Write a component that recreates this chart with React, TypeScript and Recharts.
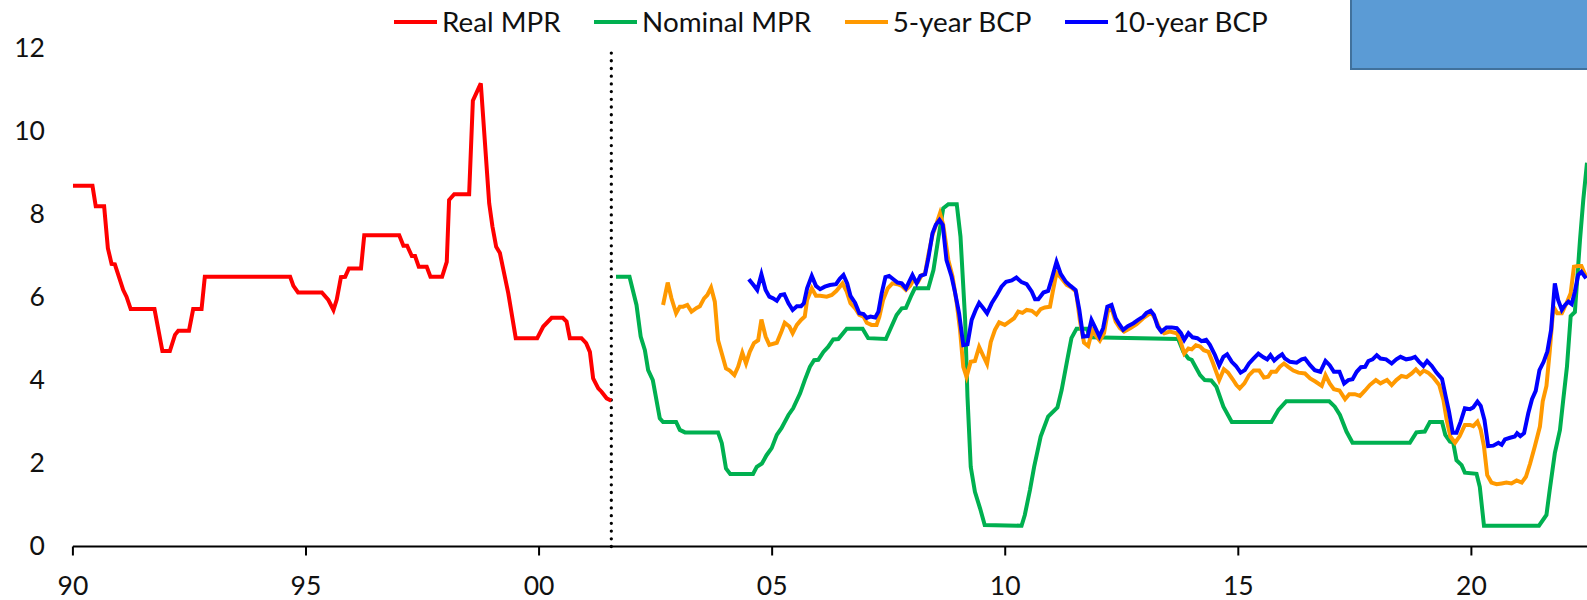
import React from 'react';
import { LineChart, Line, XAxis, YAxis, ReferenceLine } from 'recharts';

// ---------- data ([year, value]) ----------
const realMpr: [number, number][] = [
  [1990.0, 8.69], [1990.42, 8.69], [1990.49, 8.2], [1990.67, 8.2], [1990.75, 7.19], [1990.83, 6.81], [1990.9, 6.8],
  [1991.08, 6.18], [1991.15, 6.02], [1991.24, 5.72], [1991.75, 5.72], [1991.92, 4.71], [1992.08, 4.71], [1992.19, 5.1],
  [1992.26, 5.2], [1992.49, 5.2], [1992.58, 5.72], [1992.76, 5.72], [1992.83, 6.5], [1994.66, 6.5], [1994.73, 6.28],
  [1994.83, 6.12], [1995.34, 6.12], [1995.48, 5.94], [1995.59, 5.7], [1995.66, 5.95], [1995.75, 6.49], [1995.84, 6.5],
  [1995.92, 6.7], [1996.18, 6.7], [1996.25, 7.5], [1997.0, 7.5], [1997.09, 7.25], [1997.17, 7.25], [1997.27, 7.0],
  [1997.34, 7.0], [1997.42, 6.74], [1997.59, 6.74], [1997.67, 6.5], [1997.92, 6.5], [1998.02, 6.86], [1998.07, 8.35],
  [1998.18, 8.49], [1998.5, 8.49], [1998.58, 10.74], [1998.75, 11.16], [1998.93, 8.27], [1999.0, 7.71], [1999.08, 7.22],
  [1999.16, 7.07], [1999.34, 6.1], [1999.5, 5.02], [1999.96, 5.02], [2000.09, 5.3], [2000.27, 5.51], [2000.51, 5.51],
  [2000.59, 5.42], [2000.66, 5.02], [2000.91, 5.02], [2001.01, 4.9], [2001.09, 4.69], [2001.16, 4.05], [2001.27, 3.81],
  [2001.34, 3.73], [2001.45, 3.57], [2001.55, 3.51],
];

const nominalMpr: [number, number][] = [
  [2001.65, 6.5], [2001.94, 6.5], [2002.09, 5.82], [2002.18, 5.06], [2002.27, 4.73], [2002.34, 4.25], [2002.44, 4.01],
  [2002.59, 3.09], [2002.66, 3.0], [2002.94, 3.0], [2003.02, 2.81], [2003.13, 2.75], [2003.84, 2.75], [2003.92, 2.49],
  [2004.01, 1.88], [2004.1, 1.75], [2004.59, 1.75], [2004.67, 1.92], [2004.78, 2.0], [2004.88, 2.2], [2004.99, 2.37],
  [2005.1, 2.69], [2005.2, 2.85], [2005.35, 3.17], [2005.45, 3.33], [2005.6, 3.69], [2005.7, 4.01], [2005.81, 4.33],
  [2005.9, 4.49], [2005.99, 4.5], [2006.1, 4.69], [2006.2, 4.81], [2006.31, 4.99], [2006.42, 5.0], [2006.6, 5.25],
  [2006.94, 5.25], [2007.06, 5.02], [2007.44, 5.0], [2007.56, 5.3], [2007.67, 5.58], [2007.78, 5.74], [2007.87, 5.75],
  [2007.99, 6.06], [2008.06, 6.22], [2008.35, 6.22], [2008.46, 6.66], [2008.56, 7.39], [2008.67, 8.15], [2008.78, 8.25],
  [2008.96, 8.25], [2009.04, 7.47], [2009.14, 5.46], [2009.19, 3.61], [2009.26, 1.92], [2009.35, 1.32], [2009.46, 0.92],
  [2009.56, 0.52], [2010.35, 0.5], [2010.42, 0.76], [2010.53, 1.36], [2010.62, 1.92], [2010.76, 2.65], [2010.92, 3.13],
  [2011.12, 3.35], [2011.21, 3.77], [2011.33, 4.49], [2011.42, 5.02], [2011.53, 5.25], [2011.75, 5.25], [2011.82, 5.04],
  [2013.71, 5.0], [2013.82, 4.69], [2013.93, 4.53], [2014.0, 4.5], [2014.18, 4.13], [2014.28, 4.01], [2014.42, 4.0],
  [2014.53, 3.85], [2014.68, 3.37], [2014.86, 3.0], [2015.71, 3.0], [2015.86, 3.29], [2016.03, 3.5], [2016.95, 3.5],
  [2017.07, 3.37], [2017.18, 3.17], [2017.32, 2.77], [2017.45, 2.5], [2018.68, 2.5], [2018.82, 2.75], [2019.0, 2.77],
  [2019.11, 3.0], [2019.37, 3.0], [2019.44, 2.69], [2019.54, 2.53], [2019.61, 2.5], [2019.68, 2.08], [2019.79, 1.96],
  [2019.86, 1.78], [2020.11, 1.75], [2020.18, 1.44], [2020.27, 0.5], [2021.45, 0.5], [2021.61, 0.76], [2021.68, 1.36],
  [2021.79, 2.25], [2021.9, 2.81], [2021.97, 3.53], [2022.05, 4.33], [2022.13, 5.55], [2022.22, 5.65], [2022.33, 7.39],
  [2022.4, 8.35], [2022.48, 9.25],
];

const bcp5: [number, number][] = [
  [2002.66, 5.82], [2002.76, 6.36], [2002.84, 5.98], [2002.94, 5.62], [2003.02, 5.78], [2003.09, 5.78], [2003.18, 5.82],
  [2003.27, 5.66], [2003.38, 5.75], [2003.45, 5.79], [2003.54, 5.98], [2003.61, 6.06], [2003.69, 6.24], [2003.77, 5.9],
  [2003.84, 4.97], [2003.92, 4.65], [2004.01, 4.29], [2004.09, 4.24], [2004.19, 4.13], [2004.27, 4.33], [2004.36, 4.67],
  [2004.44, 4.41], [2004.52, 4.69], [2004.61, 4.9], [2004.7, 4.97], [2004.77, 5.47], [2004.86, 5.06], [2004.94, 4.86],
  [2005.1, 4.91], [2005.2, 5.18], [2005.27, 5.39], [2005.37, 5.3], [2005.44, 5.14], [2005.53, 5.34], [2005.62, 5.46],
  [2005.7, 5.54], [2005.75, 5.94], [2005.85, 6.22], [2005.94, 6.04], [2006.03, 6.04], [2006.17, 6.02], [2006.28, 6.06],
  [2006.38, 6.16], [2006.51, 6.34], [2006.6, 6.14], [2006.68, 5.86], [2006.78, 5.74], [2006.87, 5.58], [2006.96, 5.54],
  [2007.03, 5.39], [2007.13, 5.34], [2007.24, 5.34], [2007.3, 5.54], [2007.38, 5.94], [2007.48, 6.22], [2007.58, 6.34],
  [2007.69, 6.32], [2007.78, 6.28], [2007.87, 6.18], [2007.96, 6.28], [2008.03, 6.42], [2008.13, 6.38], [2008.21, 6.54],
  [2008.28, 6.57], [2008.35, 7.02], [2008.44, 7.51], [2008.53, 7.79], [2008.6, 8.03], [2008.67, 7.75], [2008.78, 6.9],
  [2008.87, 6.5], [2008.96, 5.86], [2009.03, 5.22], [2009.1, 4.33], [2009.17, 4.09], [2009.26, 4.45], [2009.35, 4.47],
  [2009.44, 4.81], [2009.53, 4.59], [2009.61, 4.4], [2009.69, 4.93], [2009.78, 5.22], [2009.87, 5.4], [2009.99, 5.34],
  [2010.09, 5.42], [2010.19, 5.5], [2010.28, 5.66], [2010.37, 5.63], [2010.46, 5.7], [2010.57, 5.68], [2010.67, 5.59],
  [2010.76, 5.72], [2010.85, 5.76], [2010.96, 5.78], [2011.02, 6.14], [2011.1, 6.6], [2011.21, 6.46], [2011.32, 6.3],
  [2011.42, 6.24], [2011.52, 6.14], [2011.6, 5.46], [2011.69, 4.91], [2011.78, 4.83], [2011.87, 5.22], [2011.96, 5.06],
  [2012.03, 4.96], [2012.12, 5.14], [2012.2, 5.66], [2012.28, 5.74], [2012.37, 5.42], [2012.46, 5.26], [2012.55, 5.18],
  [2012.68, 5.26], [2012.82, 5.36], [2012.96, 5.5], [2013.07, 5.59], [2013.14, 5.63], [2013.23, 5.46], [2013.32, 5.22],
  [2013.41, 5.14], [2013.53, 5.18], [2013.68, 5.14], [2013.75, 4.98], [2013.84, 4.65], [2013.93, 4.77], [2014.0, 4.75],
  [2014.09, 4.85], [2014.18, 4.82], [2014.26, 4.73], [2014.36, 4.69], [2014.46, 4.41], [2014.59, 4.01], [2014.69, 4.27],
  [2014.78, 4.19], [2014.88, 4.03], [2014.96, 3.89], [2015.03, 3.81], [2015.13, 3.93], [2015.23, 4.13], [2015.33, 4.24],
  [2015.45, 4.24], [2015.55, 4.07], [2015.64, 4.09], [2015.71, 4.21], [2015.81, 4.21], [2015.89, 4.33], [2015.98, 4.41],
  [2016.07, 4.33], [2016.18, 4.24], [2016.29, 4.19], [2016.43, 4.17], [2016.54, 4.05], [2016.66, 3.97], [2016.79, 3.87],
  [2016.87, 4.13], [2016.96, 3.93], [2017.05, 3.79], [2017.17, 3.76], [2017.29, 3.55], [2017.38, 3.67], [2017.5, 3.67],
  [2017.61, 3.63], [2017.72, 3.76], [2017.82, 3.89], [2017.95, 4.01], [2018.05, 3.93], [2018.19, 4.01], [2018.29, 3.89],
  [2018.39, 4.01], [2018.5, 4.11], [2018.61, 4.08], [2018.72, 4.17], [2018.81, 4.27], [2018.9, 4.16], [2018.98, 4.24],
  [2019.07, 4.19], [2019.18, 4.08], [2019.31, 3.89], [2019.4, 3.53], [2019.47, 3.05], [2019.55, 2.65], [2019.65, 2.5],
  [2019.75, 2.66], [2019.86, 2.93], [2019.97, 2.93], [2020.04, 2.9], [2020.13, 3.01], [2020.2, 2.81], [2020.27, 2.41],
  [2020.34, 1.72], [2020.43, 1.54], [2020.54, 1.5], [2020.65, 1.52], [2020.75, 1.54], [2020.86, 1.52], [2020.97, 1.59],
  [2021.08, 1.54], [2021.17, 1.68], [2021.26, 2.0], [2021.36, 2.41], [2021.47, 2.89], [2021.53, 3.5], [2021.61, 3.87],
  [2021.68, 4.7], [2021.76, 5.78], [2021.84, 5.62], [2021.94, 5.62], [2022.04, 5.86], [2022.13, 6.1], [2022.2, 6.74],
  [2022.29, 6.76], [2022.36, 6.76], [2022.46, 6.5],
];

const bcp10: [number, number][] = [
  [2004.5, 6.44], [2004.6, 6.3], [2004.68, 6.18], [2004.77, 6.56], [2004.86, 6.18], [2004.94, 6.02], [2005.02, 5.98],
  [2005.1, 5.92], [2005.18, 6.06], [2005.26, 6.08], [2005.35, 5.86], [2005.44, 5.7], [2005.53, 5.79], [2005.62, 5.79],
  [2005.68, 5.86], [2005.75, 6.22], [2005.85, 6.52], [2005.94, 6.28], [2006.03, 6.2], [2006.13, 6.26], [2006.24, 6.3],
  [2006.37, 6.32], [2006.45, 6.45], [2006.53, 6.54], [2006.61, 6.34], [2006.68, 6.04], [2006.78, 5.87], [2006.87, 5.62],
  [2006.96, 5.6], [2007.03, 5.51], [2007.11, 5.54], [2007.21, 5.52], [2007.28, 5.66], [2007.35, 6.1], [2007.43, 6.49],
  [2007.51, 6.52], [2007.6, 6.44], [2007.69, 6.36], [2007.78, 6.34], [2007.87, 6.22], [2007.94, 6.38], [2008.01, 6.54],
  [2008.1, 6.34], [2008.18, 6.52], [2008.28, 6.56], [2008.35, 6.94], [2008.44, 7.55], [2008.51, 7.75], [2008.59, 7.87],
  [2008.66, 7.75], [2008.74, 6.9], [2008.85, 6.5], [2008.92, 6.14], [2009.01, 5.62], [2009.1, 4.85], [2009.19, 4.87],
  [2009.28, 5.46], [2009.37, 5.71], [2009.44, 5.87], [2009.53, 5.74], [2009.61, 5.62], [2009.71, 5.86], [2009.82, 6.06],
  [2009.92, 6.26], [2010.02, 6.38], [2010.14, 6.41], [2010.24, 6.48], [2010.35, 6.37], [2010.46, 6.32], [2010.57, 6.14],
  [2010.64, 5.96], [2010.71, 5.96], [2010.82, 6.12], [2010.92, 6.16], [2010.99, 6.42], [2011.1, 6.86], [2011.19, 6.57],
  [2011.3, 6.38], [2011.4, 6.28], [2011.51, 6.18], [2011.59, 5.7], [2011.67, 5.06], [2011.77, 5.07], [2011.85, 5.46],
  [2011.92, 5.3], [2012.02, 5.06], [2012.1, 5.26], [2012.19, 5.78], [2012.28, 5.82], [2012.37, 5.5], [2012.45, 5.35],
  [2012.53, 5.22], [2012.63, 5.31], [2012.75, 5.38], [2012.85, 5.46], [2012.96, 5.54], [2013.03, 5.63], [2013.12, 5.68],
  [2013.19, 5.58], [2013.27, 5.3], [2013.35, 5.18], [2013.46, 5.28], [2013.57, 5.28], [2013.68, 5.26], [2013.77, 5.14],
  [2013.84, 4.98], [2013.93, 5.14], [2014.02, 5.04], [2014.12, 5.02], [2014.21, 4.95], [2014.31, 4.98], [2014.39, 4.86],
  [2014.5, 4.61], [2014.59, 4.36], [2014.68, 4.57], [2014.76, 4.63], [2014.86, 4.45], [2014.95, 4.35], [2015.05, 4.19],
  [2015.14, 4.25], [2015.23, 4.41], [2015.32, 4.52], [2015.43, 4.65], [2015.54, 4.56], [2015.62, 4.51], [2015.69, 4.61],
  [2015.77, 4.48], [2015.86, 4.57], [2015.94, 4.63], [2016.0, 4.53], [2016.11, 4.45], [2016.25, 4.43], [2016.36, 4.51],
  [2016.43, 4.53], [2016.54, 4.37], [2016.64, 4.25], [2016.76, 4.21], [2016.87, 4.47], [2016.96, 4.37], [2017.05, 4.21],
  [2017.17, 4.21], [2017.27, 3.93], [2017.36, 4.01], [2017.45, 4.03], [2017.54, 4.21], [2017.63, 4.32], [2017.72, 4.33],
  [2017.79, 4.47], [2017.88, 4.51], [2017.97, 4.61], [2018.05, 4.53], [2018.17, 4.51], [2018.29, 4.41], [2018.39, 4.51],
  [2018.48, 4.57], [2018.6, 4.51], [2018.7, 4.53], [2018.79, 4.57], [2018.88, 4.45], [2018.97, 4.35], [2019.05, 4.47],
  [2019.15, 4.35], [2019.25, 4.19], [2019.37, 4.04], [2019.45, 3.61], [2019.52, 3.25], [2019.6, 2.74], [2019.68, 2.74],
  [2019.77, 3.01], [2019.86, 3.33], [2019.97, 3.31], [2020.04, 3.35], [2020.13, 3.49], [2020.2, 3.39], [2020.28, 3.05],
  [2020.36, 2.42], [2020.47, 2.43], [2020.58, 2.5], [2020.65, 2.45], [2020.72, 2.58], [2020.83, 2.62], [2020.93, 2.65],
  [2020.98, 2.73], [2021.05, 2.66], [2021.13, 2.73], [2021.22, 3.21], [2021.3, 3.55], [2021.38, 3.75], [2021.46, 4.25],
  [2021.55, 4.45], [2021.63, 4.7], [2021.71, 5.22], [2021.79, 6.34], [2021.86, 5.94], [2021.94, 5.7], [2022.01, 5.82],
  [2022.08, 5.9], [2022.15, 5.84], [2022.22, 6.14], [2022.29, 6.54], [2022.36, 6.62], [2022.46, 6.46],
];

const xTicks = [1990, 1995, 2000, 2005, 2010, 2015, 2020];
const xTickLabels = ['90', '95', '00', '05', '10', '15', '20'];
const yTicks = [0, 2, 4, 6, 8, 10, 12];
const regimeChange = 2001.55;

const seriesNames = ['Real MPR', 'Nominal MPR', '5-year BCP', '10-year BCP'];
const seriesColors = ['#FF0000', '#00B050', '#FF9900', '#0000FF'];
const seriesData = [realMpr, nominalMpr, bcp5, bcp10];

const FONT = 'Lato, "Noto Sans", sans-serif';
const W = 1587;
const H = 600;

const toPts = (arr: [number, number][]) => arr.map(([x, v]) => ({ x, v }));

const XTick = (props: any) => {
  const { x, y, payload } = props;
  const i = xTicks.indexOf(payload.value);
  return (
    <text x={x} y={y} dy={9.5} textAnchor="middle" fontFamily={FONT} fontSize={26.5} fill="#111">
      {i >= 0 ? xTickLabels[i] : ''}
    </text>
  );
};

const YTick = (props: any) => {
  const { x, y, payload } = props;
  return (
    <text x={x} y={y} dy={8.5} textAnchor="end" fontFamily={FONT} fontSize={26.5} fill="#111">
      {payload.value}
    </text>
  );
};

export default function App() {
  return (
    <div style={{ position: 'relative', width: W, height: H, background: '#fff' }}>
      <style>{'body{margin:0;}'}</style>
      <LineChart width={W} height={H} margin={{ top: 48.5, right: 0, bottom: 0, left: 0 }}>
        <XAxis
          type="number"
          dataKey="x"
          domain={[1990, 2022.48]}
          allowDataOverflow
          ticks={xTicks}
          height={53.5}
          tickSize={9}
          tickMargin={29.5}
          axisLine={{ stroke: '#000', strokeWidth: 2 }}
          tickLine={{ stroke: '#000', strokeWidth: 2 }}
          tick={<XTick />}
          interval={0}
        />
        <YAxis
          type="number"
          domain={[0, 12]}
          ticks={yTicks}
          width={72.9}
          tickSize={0}
          tickMargin={28}
          axisLine={false}
          tickLine={false}
          tick={<YTick />}
          interval={0}
        />
        <ReferenceLine
          x={regimeChange}
          stroke="#000"
          strokeWidth={3.3}
          strokeDasharray="0.01 7.7"
          strokeLinecap="round"
        />
        {seriesData.map((d, i) => (
          <Line
            key={seriesNames[i]}
            data={toPts(d)}
            dataKey="v"
            name={seriesNames[i]}
            type="linear"
            stroke={seriesColors[i]}
            strokeWidth={4}
            dot={false}
            activeDot={false}
            isAnimationActive={false}
          />
        ))}
      </LineChart>
      <div
        style={{
          position: 'absolute',
          left: 394,
          top: 5,
          display: 'flex',
          alignItems: 'center',
          fontFamily: FONT,
          fontSize: 27.8,
          color: '#111',
          whiteSpace: 'nowrap',
        }}
      >
        {seriesNames.map((n, i) => (
          <div key={n} style={{ display: 'flex', alignItems: 'center', marginRight: 33.5 }}>
            <span style={{ display: 'inline-block', width: 43, height: 4, background: seriesColors[i], marginRight: 5 }} />
            <span>{n}</span>
          </div>
        ))}
      </div>
      <div
        style={{
          position: 'absolute',
          left: 1350,
          top: 0,
          width: W - 1350,
          height: 70,
          boxSizing: 'border-box',
          background: '#5B9BD5',
          borderLeft: '2px solid #41719C',
          borderBottom: '2px solid #41719C',
        }}
      />
    </div>
  );
}
